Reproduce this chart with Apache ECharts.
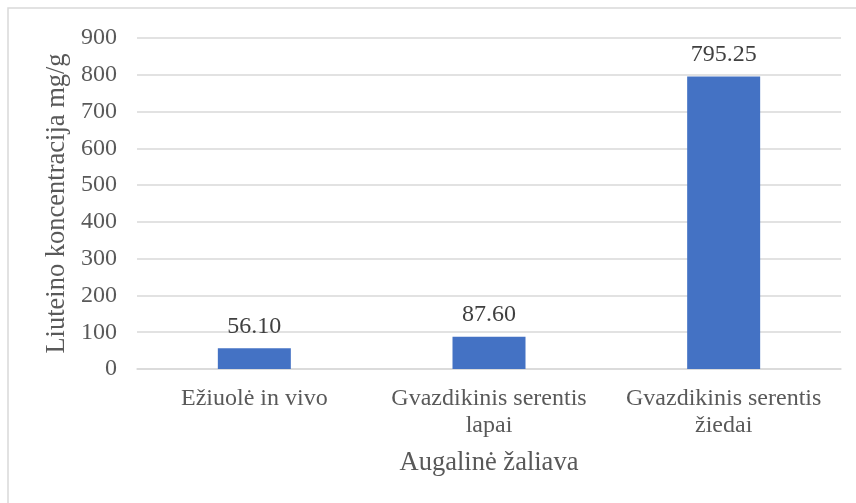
<!DOCTYPE html>
<html>
<head>
<meta charset="utf-8">
<script src="https://cdn.jsdelivr.net/npm/echarts@6/dist/echarts.min.js"></script>
<style>
  html, body { margin: 0; padding: 0; background: #fff; }
  #chart { width: 856px; height: 503px; }
</style>
</head>
<body>
<div id="chart"></div>
<script>
// Lutein concentration by plant raw material
const categories = ['Ežiuolė in vivo', 'Gvazdikinis serentis\nlapai', 'Gvazdikinis serentis\nžiedai'];
const values = [56.10, 87.60, 795.25];
const yTicks = { min: 0, max: 900, interval: 100 };
const xAxisTitle = 'Augalinė žaliava';
const yAxisTitle = 'Liuteino koncentracija mg/g';

const serif = "'Liberation Serif', 'Times New Roman', serif";
const textColor = '#595959';
const gridColor = '#d9d9d9';

const chart = echarts.init(document.getElementById('chart'), null, { renderer: 'canvas' });
chart.setOption({
  backgroundColor: '#ffffff',
  animation: false,
  graphic: [{
    type: 'rect',
    shape: { x: 8, y: 8, width: 900, height: 600 },
    style: { fill: 'none', stroke: gridColor, lineWidth: 1.5 },
    silent: true
  }],
  grid: { left: 137, right: 15, top: 38, bottom: 134 },
  xAxis: {
    type: 'category',
    data: categories,
    name: xAxisTitle,
    nameLocation: 'middle',
    nameGap: 81,
    nameTextStyle: { fontFamily: serif, fontSize: 26.5, color: textColor },
    axisLine: { show: true, lineStyle: { color: gridColor, width: 1.5 } },
    axisTick: { show: false },
    axisLabel: {
      fontFamily: serif, fontSize: 24, color: textColor,
      lineHeight: 27, margin: 16, interval: 0
    }
  },
  yAxis: {
    type: 'value',
    min: yTicks.min,
    max: yTicks.max,
    interval: yTicks.interval,
    name: yAxisTitle,
    nameLocation: 'middle',
    nameGap: 64,
    nameTextStyle: { fontFamily: serif, fontSize: 26.5, color: textColor },
    axisLine: { show: false },
    axisTick: { show: false },
    axisLabel: { fontFamily: serif, fontSize: 24, color: textColor, margin: 20 },
    splitLine: { lineStyle: { color: gridColor, width: 1.5 } }
  },
  series: [{
    type: 'bar',
    data: values,
    barWidth: 73,
    itemStyle: { color: '#4472C4' },
    label: {
      show: true,
      position: 'top',
      distance: 10,
      fontFamily: serif,
      fontSize: 24,
      color: '#404040',
      formatter: p => p.value.toFixed(2)
    }
  }]
});
</script>
</body>
</html>
